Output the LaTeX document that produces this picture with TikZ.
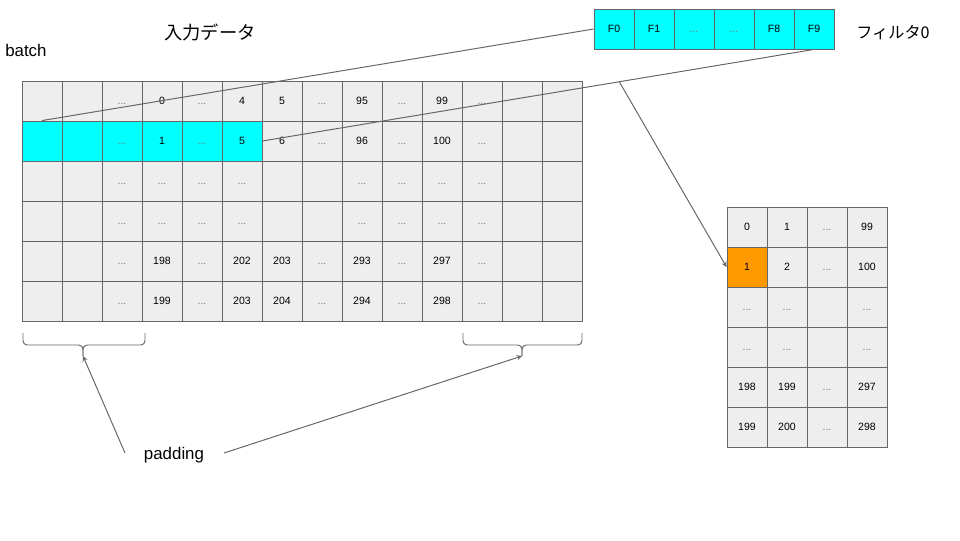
\documentclass[tikz,border=0pt]{standalone}
\usepackage{fontspec}
\setmainfont{Liberation Sans}
\newfontfamily\jpfont{Noto Sans CJK JP}
\usepackage{tikz}
\definecolor{cellgray}{HTML}{EEEEEE}
\definecolor{linegray}{HTML}{666666}
\definecolor{dotgray}{HTML}{777777}
\definecolor{hlcyan}{HTML}{00FFFF}
\definecolor{hlorange}{HTML}{FF9900}
\newcommand{\dts}{\textcolor{dotgray}{...}}
\tikzstyle{cell} = [rectangle, minimum width=1cm, minimum height=1cm, inner sep=0pt, text centered, text height=5.2pt, text depth=0pt, draw=linegray, line width=0.6pt, fill=cellgray, font=\fontsize{7.5}{9}\selectfont]
\tikzstyle{arrow} = [linegray, line width=0.7pt, ->, >=stealth]
\tikzstyle{guide} = [linegray, line width=0.7pt]
\tikzstyle{title} = [font=\fontsize{12}{14}\selectfont]

\begin{document}
\begin{tikzpicture}[x=0.025cm, y=-0.025cm]
        \useasboundingbox (0,0) rectangle (960,540);
        % input data
        \foreach \r/\vals in {0/{{},{},\dts,0,\dts,4,5,\dts,95,\dts,99,\dts,{},{}},
                              1/{{},{},\dts,1,\dts,5,6,\dts,96,\dts,100,\dts,{},{}},
                              2/{{},{},\dts,\dts,\dts,\dts,{},{},\dts,\dts,\dts,\dts,{},{}},
                              3/{{},{},\dts,\dts,\dts,\dts,{},{},\dts,\dts,\dts,\dts,{},{}},
                              4/{{},{},\dts,198,\dts,202,203,\dts,293,\dts,297,\dts,{},{}},
                              5/{{},{},\dts,199,\dts,203,204,\dts,294,\dts,298,\dts,{},{}}}
            \foreach \v [count=\c from 0] in \vals {
                \ifnum\r=1 \ifnum\c<6 \def\cellfill{hlcyan}\else\def\cellfill{cellgray}\fi
                \else \def\cellfill{cellgray}\fi
                \node (in-\r-\c) [cell, fill=\cellfill] at (42+40*\c, 101+40*\r) {\v};
            }
        % filter
        \foreach \v [count=\c from 0] in {F0,F1,\dts,\dts,F8,F9}
            \node (f-\c) [cell, fill=hlcyan] at (614+40*\c, 29) {\v};
        % output
        \foreach \r/\vals in {0/{0,1,\dts,99}, 1/{1,2,\dts,100}, 2/{\dts,\dts,{},\dts},
                              3/{\dts,\dts,{},\dts}, 4/{198,199,\dts,297}, 5/{199,200,\dts,298}}
            \foreach \v [count=\c from 0] in \vals
                \node (out-\r-\c) [cell] at (747+40*\c, 227+40*\r) {\v};
        \node [cell, fill=hlorange] at (out-1-0) {1};
        % labels
        \node (batch) [title, anchor=west, inner sep=0pt] at (5,50) {batch};
        \node (input) [font=\jpfont\fontsize{13}{15}\selectfont] at (210,32) {入力データ};
        \node (filter) [font=\jpfont\fontsize{11.5}{14}\selectfont] at (893,33) {フィルタ0};
        \node (padding) [title] at (174,455) {padding};
        % filter position
        \draw [guide] (f-0.west) -- (in-1-0.north);
        \draw [guide] (f-5.south) -- coordinate[pos=0.353] (tap) (in-1-5.east);
        \draw [arrow] (tap) -- (out-1-0.west);
        % padding braces
        \coordinate (padL) at (83,356);
        \coordinate (padR) at (522,356);
        \draw [guide, rounded corners=3] (23,333) |- (83,345) -- (padL);
        \draw [guide, rounded corners=3] (145,333) |- (83,345) -- (padL);
        \draw [guide, rounded corners=3] (463,333) |- (522,345) -- (padR);
        \draw [guide, rounded corners=3] (582,333) |- (522,345) -- (padR);
        \draw [arrow] (padding.west) ++(-14,-2) -- (padL);
        \draw [arrow] (padding.east) ++(15,-2) -- (padR);
    \end{tikzpicture}
\end{document}
